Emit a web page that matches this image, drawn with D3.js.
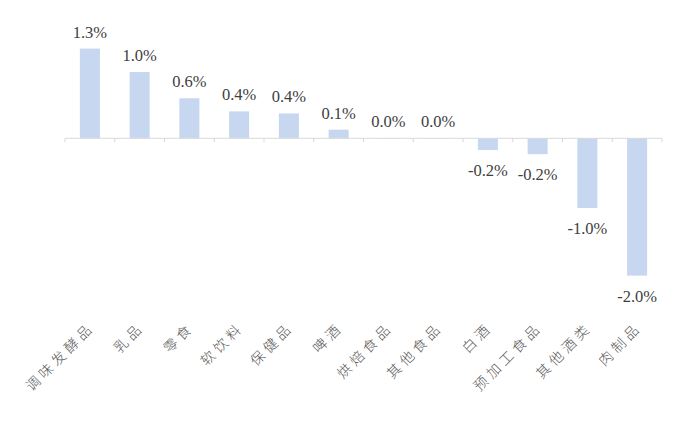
<!DOCTYPE html>
<html>
<head>
<meta charset="utf-8">
<script src="https://cdn.jsdelivr.net/npm/d3@7/dist/d3.min.js"></script>
<style>
html,body{margin:0;padding:0;background:#fff;}
</style>
</head>
<body>
<svg id="chart" width="700" height="433"></svg>
<script>
const categories = ["调味发酵品","乳品","\u96f6食","软饮料","保健品","啤酒","烘焙食品","其他食品","白酒","预加工食品","其他酒类","肉制品"];
const values = [1.30, 0.96, 0.58, 0.39, 0.36, 0.125, 0.004, 0.003, -0.17, -0.23, -1.01, -1.99];
const yDomain = [-2.5, 1.5];

const svg = d3.select("#chart");
const y = d3.scaleLinear().domain(yDomain).range([310.8, 34.8]);
const band = d3.scaleBand().domain(categories).range([65, 662]);

svg.append("g").selectAll("rect").data(categories).join("rect")
  .attr("x", d => band(d) + band.bandwidth()/2 - 10)
  .attr("width", 20)
  .attr("y", (d,i) => y(Math.max(0, values[i])))
  .attr("height", (d,i) => Math.abs(y(values[i]) - y(0)))
  .attr("fill", "#c6d7ef");

// axis
const ga = svg.append("g").attr("transform", `translate(0,${y(0)})`);
ga.append("path").attr("d", "M65,0H662").attr("stroke", "#d9d9d9").attr("fill", "none");
const edges = d3.range(categories.length + 1).map(i => 65 + i * band.step());
ga.selectAll("line.edge").data(edges).join("line").attr("class","edge")
  .attr("x1", d => d).attr("x2", d => d).attr("y1", 0).attr("y2", 4)
  .attr("stroke", "#d9d9d9");

// value labels
svg.append("g").selectAll("text").data(categories).join("text")
  .attr("x", d => band(d) + band.bandwidth()/2)
  .attr("y", (d,i) => values[i] >= 0 ? y(values[i]) - 11 : y(values[i]) + 26)
  .attr("text-anchor", "middle")
  .attr("font-family", "'Liberation Serif', 'Times New Roman', serif")
  .attr("font-size", "16.5px")
  .attr("fill", "#404040")
  .text((d,i) => values[i].toFixed(1) + "%");

// category labels
svg.append("g").selectAll("text").data(categories).join("text")
  .attr("transform", d => `translate(${band(d) + band.bandwidth()/2 + 2},${325}) rotate(-45)`)
  .attr("text-anchor", "end")
  .attr("dy", "0.35em")
  .attr("font-family", "'Noto Sans CJK SC', sans-serif")
  .attr("font-weight", "300")
  .attr("font-size", "14px")
  .attr("letter-spacing", "4px")
  .attr("fill", "#595959")
  .text(d => d);
</script>
</body>
</html>
